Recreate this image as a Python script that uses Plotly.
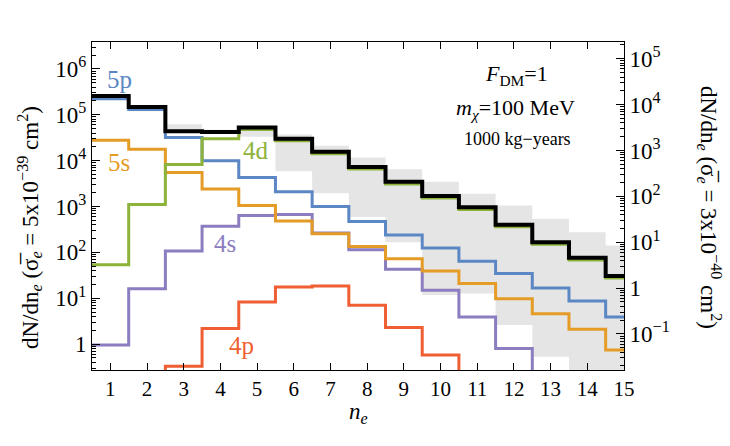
import math
import plotly.graph_objects as go

# ---------------- data ----------------
n_e = list(range(1, 16))
total = [2.56e5, 1.48e5, 4.35e4, 4.2e4, 5.3e4, 3.0e4, 1.57e4, 7.3e3, 3.45e3, 1.7e3, 960, 400, 167, 76, 30.6]
d4 = [54, 1.1e3, 8.2e3, 3.0e4, 4.75e4, 2.7e4, 1.41e4, 6.6e3, 3.1e3, 1.53e3, 865, 360, 150, 68, 27.5]
p5 = [2.23e5, 1.3e5, 3.2e4, 1.0e4, 4.3e3, 2.1e3, 1.0e3, 470, 240, 124, 64, 34.5, 16.7, 8.7, 3.9]
s5 = [2.8e4, 1.78e4, 5.5e3, 2.4e3, 1.05e3, 480, 254, 135, 73, 39, 21, 9.8, 4.6, 2.1, 0.74]
s4 = [0.95, 16, 107, 370, 640, 670, 263, 114, 43, 15, 3.9, 0.8, None, None, None]
p4 = [None, None, 0.33, 2.2, 8.3, 17.6, 18.5, 7.0, 2.3, 0.58, None, None, None, None, None]
band_lo = [2.3e5, 1.2e5, 4.2e4, 4.0e4, 3.3e4, 5.9e3, 1.95e3, 590, 167, 11.7, 12.6, 2.6, 0.53, None, None]
band_hi = [2.8e5, 1.55e5, 6.2e4, 4.7e4, 5.4e4, 3.7e4, 2.1e4, 1.17e4, 6.5e3, 3.45e3, 1.9e3, 1.05e3, 540, 276, 142]

x_max = 15
scale_ratio = 5 / 0.3  # left / right normalisation (5e-39 vs 3e-40)
left_ticks = [1, 10, 100, 1e3, 1e4, 1e5, 1e6]
left_text = ["1", "10<sup>1</sup>", "10<sup>2</sup>", "10<sup>3</sup>", "10<sup>4</sup>", "10<sup>5</sup>", "10<sup>6</sup>"]
right_ticks = [0.1, 1, 10, 100, 1e3, 1e4, 1e5]
right_text = ["10<sup>−1</sup>", "1", "10<sup>1</sup>", "10<sup>2</sup>", "10<sup>3</sup>", "10<sup>4</sup>", "10<sup>5</sup>"]

FLOOR = 1e-4
FONT = "Liberation Serif, Times New Roman, Times, DejaVu Serif, serif"


def steps(vals):
    xs = [n - 0.5 for n in n_e] + [x_max]
    ys = [(v if v is not None else FLOOR) for v in vals]
    ys = ys + [ys[-1]]
    return xs, ys


fig = go.Figure()

# shaded band
xl, yl = steps(band_lo)
xh, yh = steps(band_hi)
fig.add_trace(go.Scatter(x=xl, y=yl, mode="lines", line=dict(width=0, shape="hv"),
                         showlegend=False, hoverinfo="skip"))
fig.add_trace(go.Scatter(x=xh, y=yh, mode="lines", line=dict(width=0, shape="hv"),
                         fill="tonexty", fillcolor="#e5e5e5", showlegend=False, hoverinfo="skip"))

series = [
    (p4, "#f05f33", 3),
    (s4, "#8b7dbf", 3),
    (s5, "#e59c27", 3),
    (p5, "#5b87c4", 3),
    (d4, "#8db33a", 3),
    (total, "#000000", 4),
]
for vals, col, w in series:
    xs, ys = steps(vals)
    fig.add_trace(go.Scatter(x=xs, y=ys, mode="lines", line=dict(color=col, width=w, shape="hv"),
                             showlegend=False))

# dummy trace for right axis
fig.add_trace(go.Scatter(x=[1], y=[1], yaxis="y2", mode="lines", showlegend=False, hoverinfo="skip"))

lo_log, hi_log = -0.565, 6.587
shift = math.log10(scale_ratio)

minor_left = [m * 10 ** k for k in range(-1, 7) for m in range(2, 10)]
minor_right = [m * 10 ** k for k in range(-2, 6) for m in range(2, 10)]

fig.update_layout(
    width=730, height=446,
    margin=dict(l=92, r=106, t=42, b=76),
    paper_bgcolor="white", plot_bgcolor="white",
    font=dict(family=FONT, color="black"),
    xaxis=dict(range=[0.5, x_max], tickvals=n_e, ticks="inside", ticklen=7, tickcolor="black",
               showline=True, linecolor="black", linewidth=1, mirror="ticks", showgrid=False,
               zeroline=False, tickfont=dict(size=21, family=FONT)),
    yaxis=dict(type="log", range=[lo_log, hi_log], tickvals=left_ticks, ticktext=left_text,
               ticks="inside", ticklen=8, tickcolor="black", showline=True, linecolor="black",
               linewidth=1, mirror=True, showgrid=False, zeroline=False,
               tickfont=dict(size=23, family=FONT),
               minor=dict(tickvals=minor_left, ticks="inside", ticklen=4, tickcolor="black", showgrid=False)),
    yaxis2=dict(type="log", range=[lo_log - shift, hi_log - shift], overlaying="y", side="right",
                tickvals=right_ticks, ticktext=right_text, ticks="inside", ticklen=8, tickcolor="black",
                showline=True, linecolor="black", linewidth=1, showgrid=False, zeroline=False,
                tickfont=dict(size=23, family=FONT),
                minor=dict(tickvals=minor_right, ticks="inside", ticklen=4, tickcolor="black", showgrid=False)),
)

ann = []
# curve labels
labels = [
    ("5p", 1.24, 5.78, "#5b87c4"),
    ("5s", 1.24, 3.97, "#e59c27"),
    ("4d", 4.98, 4.22, "#8db33a"),
    ("4s", 4.13, 2.2, "#8b7dbf"),
    ("4p", 4.57, -0.04, "#f05f33"),
]
for t, x, y, c in labels:
    ann.append(dict(text=t, x=x, y=y, xref="x", yref="y", showarrow=False,
                    font=dict(size=25, color=c, family=FONT)))

# info text
ann.append(dict(text="<i>F</i><sub>DM</sub>=1", x=516, y=75, xref="paper", yref="paper", showarrow=False,
                font=dict(size=22, family=FONT)))
ann.append(dict(text="<i>m<sub>χ</sub></i>=100 MeV", x=515, y=109, xref="paper", yref="paper", showarrow=False,
                font=dict(size=22, family=FONT)))
ann.append(dict(text="1000 kg−years", x=517, y=139, xref="paper", yref="paper", showarrow=False,
                font=dict(size=18, family=FONT)))

# axis titles
ann.append(dict(text="<i>n<sub>e</sub></i>", x=358, y=413, xref="paper", yref="paper", showarrow=False,
                font=dict(size=23, family=FONT)))
ann.append(dict(text="dN/dn<sub><i>e</i></sub> (σ̅<sub><i>e</i></sub> = 5x10<sup>−39</sup> cm<sup>2</sup>)",
                x=30, y=228, xref="paper", yref="paper", showarrow=False, textangle=-90,
                font=dict(size=23, family=FONT)))
ann.append(dict(text="dN/dn<sub><i>e</i></sub> (σ̅<sub><i>e</i></sub> = 3x10<sup>−40</sup> cm<sup>2</sup>)",
                x=710, y=207, xref="paper", yref="paper", showarrow=False, textangle=90,
                font=dict(size=23, family=FONT)))

# convert pixel positions for paper-referenced annotations
W, H = 730, 446
L, R, T, B = 92, 106, 42, 76
pw, ph = W - L - R, H - T - B
for a in ann:
    a["xanchor"] = "center"
    a["yanchor"] = "middle"
    if a["xref"] == "paper":
        a["x"] = (a["x"] - L) / pw
        a["y"] = 1 - (a["y"] - T) / ph

fig.update_layout(annotations=ann)
fig.write_html("out.html")
